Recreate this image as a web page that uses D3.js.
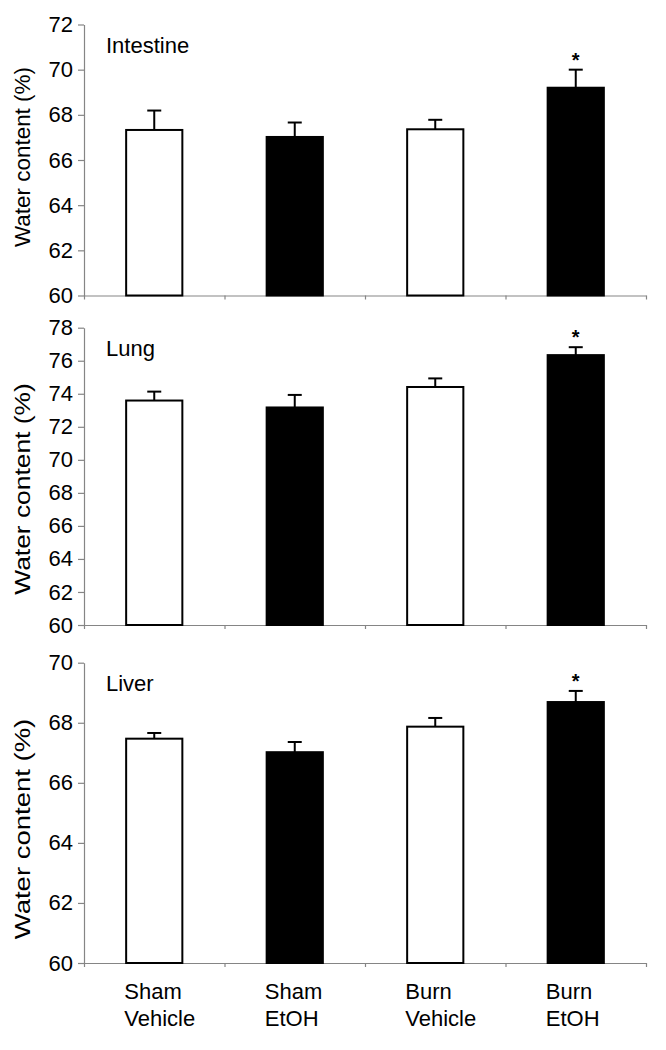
<!DOCTYPE html>
<html>
<head>
<meta charset="utf-8">
<script src="https://cdn.jsdelivr.net/npm/d3@7"></script>
<style>
  body { margin: 0; background: #fff; }
  svg text { font-family: "Liberation Sans", Arial, sans-serif; fill: #000; }
</style>
</head>
<body>
<svg id="chart" width="666" height="1050"></svg>
<script>
// Data
const groupTop = ["Sham", "Sham", "Burn", "Burn"];
const groupBottom = ["Vehicle", "EtOH", "Vehicle", "EtOH"];
const groups = ["Sham Vehicle", "Sham EtOH", "Burn Vehicle", "Burn EtOH"];

const intestineMean = [67.33, 67.02, 67.36, 69.2];
const intestineErr = [0.86, 0.64, 0.42, 0.8];
const lungMean = [73.59, 73.17, 74.41, 76.34];
const lungErr = [0.54, 0.76, 0.52, 0.48];
const liverMean = [67.47, 67.02, 67.87, 68.69];
const liverErr = [0.19, 0.34, 0.29, 0.37];
const significant = [false, false, false, true];

const intestineTicks = [60, 62, 64, 66, 68, 70, 72];
const lungTicks = [60, 62, 64, 66, 68, 70, 72, 74, 76, 78];
const liverTicks = [60, 62, 64, 66, 68, 70];

// Layout (each panel in the source figure was stretched a little differently)
const plotLeft = 84, plotRight = 646;
const panels = [
    { name: "Intestine", mean: intestineMean, err: intestineErr, ticks: intestineTicks, top: 24.5, bottom: 295.5, titleY: 157, stretch: 1.02 },
    { name: "Lung", mean: lungMean, err: lungErr, ticks: lungTicks, top: 327.7, bottom: 625, titleY: 489, stretch: 1.2 },
    { name: "Liver", mean: liverMean, err: liverErr, ticks: liverTicks, top: 662.7, bottom: 963, titleY: 829, stretch: 1.25 }
];

const svg = d3.select("#chart");
const axisColor = "#858585";
const fontSize = "22px";

const xScale = d3.scaleBand()
    .domain(groups)
    .range([plotLeft, plotRight])
    .paddingInner(0.6)
    .paddingOuter(0.3);

// category boundaries for the tick marks
const xEdge = d3.scaleLinear().domain([0, groups.length]).range([plotLeft, plotRight]);

panels.forEach(p => {
    const yScale = d3.scaleLinear()
        .domain([d3.min(p.ticks), d3.max(p.ticks)])
        .range([p.bottom, p.top]);

    const g = svg.append("g").attr("class", "panel");

    // y axis
    const yAxisGroup = g.append("g")
        .attr("transform", `translate(${plotLeft},0)`)
        .call(d3.axisLeft(yScale).tickValues(p.ticks).tickSize(6).tickSizeOuter(0).tickPadding(5));
    yAxisGroup.select(".domain").attr("stroke", axisColor).attr("stroke-width", 1.2);
    yAxisGroup.selectAll(".tick line").attr("stroke", axisColor).attr("stroke-width", 1.2);
    yAxisGroup.selectAll(".tick text")
        .style("font-size", fontSize)
        .attr("fill", "#000");

    // x axis (ticks between categories)
    const xAxisGroup = g.append("g")
        .attr("transform", `translate(0,${p.bottom})`)
        .call(d3.axisBottom(xEdge).tickValues(d3.range(0, groups.length + 1)).tickSize(4).tickSizeOuter(0).tickFormat(""));
    xAxisGroup.select(".domain").attr("stroke", axisColor).attr("stroke-width", 1.2);
    xAxisGroup.selectAll(".tick line").attr("stroke", axisColor).attr("stroke-width", 1.2);

    // y axis title
    g.append("text")
        .attr("transform", `translate(30,${p.titleY}) rotate(-90) scale(${p.stretch},1)`)
        .attr("text-anchor", "middle")
        .style("font-size", fontSize)
        .text("Water content (%)");

    // panel label
    g.append("text")
        .attr("x", 106)
        .attr("y", p.top + 28)
        .style("font-size", fontSize)
        .text(p.name);

    const data = groups.map((k, i) => ({ key: k, mean: p.mean[i], err: p.err[i], sig: significant[i], etoh: groupBottom[i] === "EtOH" }));

    // error bars (upper only)
    const eb = g.selectAll(".err")
        .data(data)
        .enter().append("g")
        .attr("class", "err");
    eb.append("line")
        .attr("x1", d => xScale(d.key) + xScale.bandwidth() / 2)
        .attr("x2", d => xScale(d.key) + xScale.bandwidth() / 2)
        .attr("y1", d => yScale(d.mean))
        .attr("y2", d => yScale(d.mean + d.err))
        .attr("stroke", "#000")
        .attr("stroke-width", 2);
    eb.append("line")
        .attr("x1", d => xScale(d.key) + xScale.bandwidth() / 2 - 7)
        .attr("x2", d => xScale(d.key) + xScale.bandwidth() / 2 + 7)
        .attr("y1", d => yScale(d.mean + d.err))
        .attr("y2", d => yScale(d.mean + d.err))
        .attr("stroke", "#000")
        .attr("stroke-width", 2);

    // bars
    g.selectAll(".bar")
        .data(data)
        .enter().append("rect")
        .attr("class", "bar")
        .attr("x", d => xScale(d.key))
        .attr("width", xScale.bandwidth())
        .attr("y", d => yScale(d.mean))
        .attr("height", d => yScale.range()[0] - yScale(d.mean))
        .attr("fill", d => d.etoh ? "#000" : "#fff")
        .attr("stroke", "#000")
        .attr("stroke-width", 2);

    // significance stars
    g.selectAll(".star")
        .data(data.filter(d => d.sig))
        .enter().append("text")
        .attr("class", "star")
        .attr("x", d => xScale(d.key) + xScale.bandwidth() / 2)
        .attr("y", d => yScale(d.mean + d.err) - 3)
        .attr("text-anchor", "middle")
        .style("font-size", "20px")
        .style("font-weight", "bold")
        .text("*");
});

// category labels under the last panel
const lastBottom = panels[panels.length - 1].bottom;
const labels = svg.selectAll(".cat-label")
    .data(groups)
    .enter().append("text")
    .attr("class", "cat-label")
    .attr("x", d => xScale(d) + xScale.bandwidth() / 2 - 30)
    .attr("y", lastBottom + 36)
    .style("font-size", fontSize);
labels.append("tspan")
    .text((d, i) => groupTop[i]);
labels.append("tspan")
    .attr("x", d => xScale(d) + xScale.bandwidth() / 2 - 30)
    .attr("dy", 27)
    .text((d, i) => groupBottom[i]);
</script>
</body>
</html>
